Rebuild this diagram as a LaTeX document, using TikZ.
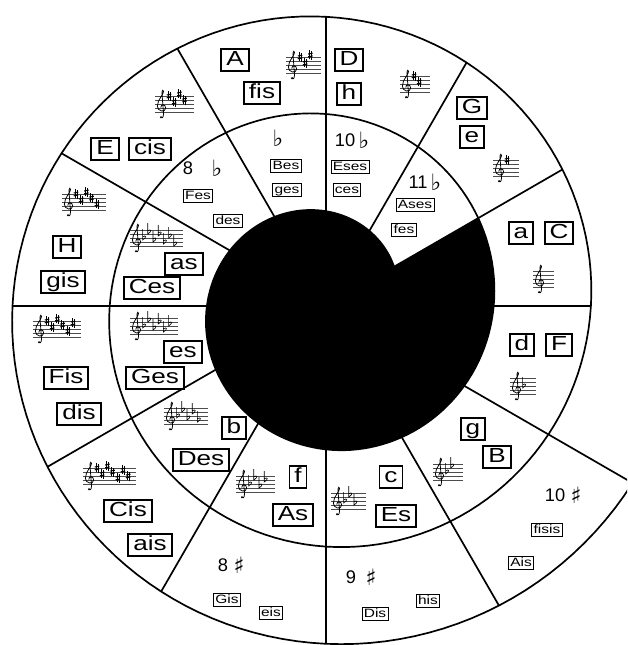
\documentclass[tikz,border=0pt]{standalone}
\usepackage{fontspec}
\setmainfont{Liberation Sans}
\newfontfamily\boxfont[FakeStretch=1.28]{Liberation Sans}
\newfontfamily\symfont{DejaVu Sans}
\usetikzlibrary{calc}
\tikzset{
  every picture/.style={x=0.025cm,y=-0.025cm},
  rim/.style={line width=1.2pt,line join=round},
  keybox/.style={draw,line width=1.3pt,font=\boxfont\fontsize{14.5}{16}\selectfont,
    inner xsep=3.5pt,inner ysep=1pt,text height=10.4pt,text depth=2.7pt},
  minibox/.style={draw,line width=0.6pt,font=\boxfont\fontsize{8.6}{9}\selectfont,
    inner xsep=1.3pt,inner ysep=0.8pt,text height=6.3pt,text depth=1.8pt},
  count/.style={font=\fontsize{13}{14}\selectfont,inner sep=0},
  acc/.style={font=\symfont\fontsize{16}{16}\selectfont,inner sep=0},
  staffline/.style={line width=0.25pt,black!70},
  clefline/.style={line width=0.55pt},
}
\newcommand{\rad}[1]{(70.5+0.27*(#1))}
% staff with clef, origin on the middle line
\newcommand{\staffbase}[1]{%
  \pgfmathsetmacro{\len}{(21+4.5*#1)/4}
  \foreach \l in {-2,...,2} \draw[staffline] (0,\l) -- (\len,\l);
  \draw[clefline] (1.55,-3.3) .. controls (2.0,-3.8) and (2.2,-2.8) .. (2.1,-2)
    -- (1.75,2.6) .. controls (1.7,3.4) and (2.1,3.8) .. (2.15,3.2)
    .. controls (2.2,2.4) and (0.6,1.2) .. (0.6,-0.6)
    .. controls (0.6,-1.8) and (2.6,-2.3) .. (2.65,-1.0)
    .. controls (2.7,0) and (1.4,0.1) .. (1.45,-0.9);
  \fill (1.5,-3.3) circle (0.3);
}
\newcommand{\sharpstaff}[3]{%
  \begin{scope}[shift={(#1,#2)},xscale=4,yscale=-4]
    \staffbase{#3}
    \foreach \p [count=\i] in {2,0.5,2.5,1,-0.5,1.5,0}{
      \ifnum\i>#3\relax\else
        \pgfmathsetmacro{\ax}{(14+5.2*(\i-1))/4}
        \draw[line width=0.3pt] (\ax-0.25,\p-1.1) -- (\ax-0.25,\p+1.3)
          (\ax+0.25,\p-1.3) -- (\ax+0.25,\p+1.1);
        \draw[line width=0.8pt] (\ax-0.55,\p-0.45) -- (\ax+0.55,\p-0.25)
          (\ax-0.55,\p+0.25) -- (\ax+0.55,\p+0.45);
      \fi}
  \end{scope}}
\newcommand{\flatstaff}[3]{%
  \begin{scope}[shift={(#1,#2)},xscale=4,yscale=-4]
    \staffbase{#3}
    \foreach \p [count=\i] in {0,1.5,-0.5,1,-1,0.5,-1.5}{
      \ifnum\i>#3\relax\else
        \pgfmathsetmacro{\ax}{(14+5.2*(\i-1))/4}
        \draw[line width=0.45pt] (\ax-0.35,\p+2.2) -- (\ax-0.35,\p-0.5)
          .. controls (\ax+0.7,\p+0.1) and (\ax+0.6,\p+0.9) .. (\ax-0.35,\p+0.3);
      \fi}
  \end{scope}}

\begin{document}
\begin{tikzpicture}
  \useasboundingbox (0,0) rectangle (627,645);
  \clip (0,0) rectangle (627,645);
  \coordinate (O) at (326,306);

  % black core and the spiral
  \fill[shift={(O)}] plot[domain=30:390,samples=150,variable=\t]
    ({\rad{\t}*cos(\t)},{-\rad{\t}*sin(\t)}) -- cycle;
  \draw[rim,shift={(O)}] plot[domain=30:1050,samples=409,variable=\t]
    ({\rad{\t}*cos(\t)},{-\rad{\t}*sin(\t)});
  \foreach \a in {30,60,...,330}
    \draw[rim,shift={(O)}] (-\a:{70.5+0.27*\a}) -- (-\a:{70.5+0.27*(\a+720)});
  \draw[rim,shift={(O)}] (0:167.7) -- (0:264.9);

  % key names, outer band
  \node[keybox] (kA) at (235,60) {A};
  \node[keybox] (kfis) at (262,93) {fis};
  \node[keybox] (kD) at (349,60) {D};
  \node[keybox] (kh) at (349,94) {h};
  \node[keybox] (kG) at (472,108) {G};
  \node[keybox] (ke) at (472,137) {e};
  \node[keybox] (ka) at (521,233) {a};
  \node[keybox] (kC) at (559,233) {C};
  \node[keybox] (kd) at (522,345) {d};
  \node[keybox] (kF) at (559,345) {F};
  \node[keybox] (kg) at (473,429) {g};
  \node[keybox] (kB) at (497,457) {B};
  \node[keybox] (kc) at (391,477) {c};
  \node[keybox] (kEs) at (396,516) {Es};
  \node[keybox] (kf) at (298,477) {f};
  \node[keybox] (kAs) at (293,515) {As};
  \node[keybox] (kb) at (234,428) {b};
  \node[keybox] (kDes) at (201,460) {Des};
  \node[keybox] (kes) at (183,352) {es};
  \node[keybox] (kGes) at (155,378) {Ges};
  \node[keybox] (kas) at (184,264) {as};
  \node[keybox] (kCes) at (152,288) {Ces};
  \node[keybox] (kE) at (105,149) {E};
  \node[keybox] (kcis) at (150,149) {cis};
  \node[keybox] (kH) at (67,247) {H};
  \node[keybox] (kgis) at (63,282) {gis};
  \node[keybox] (kFis) at (66,378) {Fis};
  \node[keybox] (kdis) at (79,414) {dis};
  \node[keybox] (kCis) at (128,511) {Cis};
  \node[keybox] (kais) at (150,545) {ais};

  % enharmonic keys
  \node[minibox] (mFes) at (198,196) {Fes};
  \node[minibox] (mdes) at (228,221) {des};
  \node[minibox] (mBes) at (286,166) {Bes};
  \node[minibox] (mges) at (287,190) {ges};
  \node[minibox] (mEses) at (350,167) {Eses};
  \node[minibox] (mces) at (347,190) {ces};
  \node[minibox] (mAses) at (415,205) {Ases};
  \node[minibox] (mfes) at (404,230) {fes};
  \node[minibox] (mGis) at (227,600) {Gis};
  \node[minibox] (meis) at (271,613) {eis};
  \node[minibox] (mDis) at (375,614) {Dis};
  \node[minibox] (mhis) at (428,601) {his};
  \node[minibox] (mAis) at (521,563) {Ais};
  \node[minibox] (mfisis) at (547,530) {fisis};

  \node[count] (n8f) at (188,168) {8};
  \node[acc] (a8f) at (217,168) {♭};
  \node[acc] (a9f) at (278,138) {♭};
  \node[count] (n10f) at (345,140) {10};
  \node[acc] (a10f) at (364,140) {♭};
  \node[count] (n11f) at (418,182) {11};
  \node[acc] (a11f) at (436,182) {♭};
  \node[count] (n8s) at (223,565) {8};
  \node[acc] (a8s) at (239,565) {♯};
  \node[count] (n9s) at (351,577) {9};
  \node[acc] (a9s) at (371,577) {♯};
  \node[count] (n10s) at (555,495) {10};
  \node[acc] (a10s) at (576,495) {♯};

  % key signatures
  \sharpstaff{533}{279}{0}
  \sharpstaff{493}{168}{1}
  \sharpstaff{400}{84}{2}
  \sharpstaff{286}{65}{3}
  \sharpstaff{155}{104}{4}
  \sharpstaff{62}{202}{5}
  \sharpstaff{33}{329}{6}
  \sharpstaff{83}{476}{7}
  \flatstaff{510}{386}{1}
  \flatstaff{433}{472}{2}
  \flatstaff{331}{501}{3}
  \flatstaff{236}{484}{4}
  \flatstaff{164}{416}{5}
  \flatstaff{130}{326}{6}
  \flatstaff{130}{238}{7}
\end{tikzpicture}
\end{document}
